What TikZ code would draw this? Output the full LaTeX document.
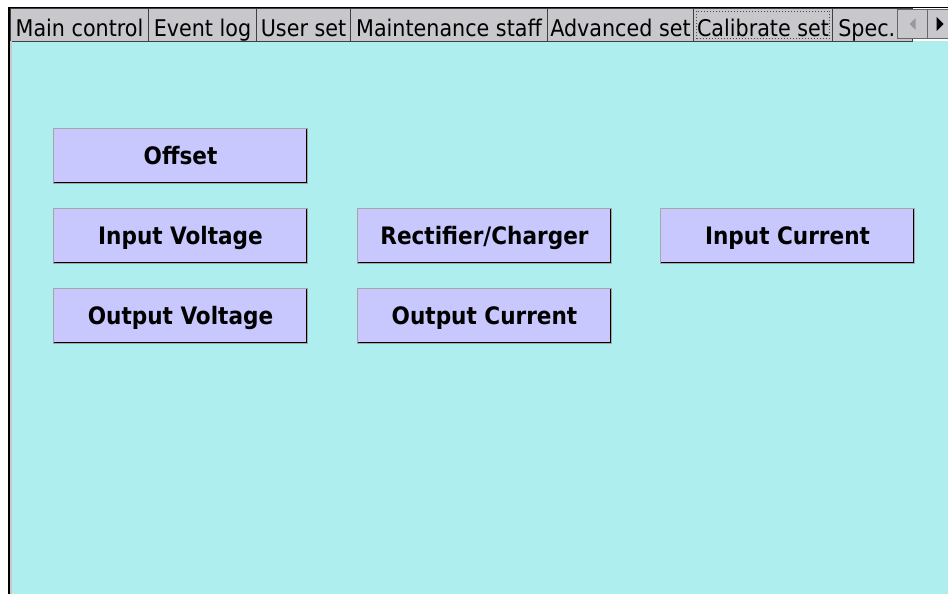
\documentclass[tikz,border=0pt]{standalone}
\usepackage{fontspec}
\setmainfont{DejaVu Sans Condensed}
\usetikzlibrary{positioning}

\definecolor{panelcyan}{RGB}{174,238,238}
\definecolor{tabgray}{RGB}{200,199,203}
\definecolor{btnfill}{RGB}{200,200,255}

\begin{document}
\begin{tikzpicture}[
  x=1pt, y=-1pt,
  tabbox/.style={draw=black!75, line width=1, fill=tabgray, anchor=north west,
    inner sep=0, text height=28, text depth=5, font=\fontsize{23}{25}\selectfont},
  tabsel/.style={tabbox, path picture={
    \draw[dotted, black!70] ([shift={(3,3)}]path picture bounding box.north west)
      rectangle ([shift={(-3,-3)}]path picture bounding box.south east);}},
  btn/.style={draw=black!35, line width=1, fill=btnfill, anchor=north west,
    minimum width=254, minimum height=55, inner sep=0, text height=17.5, text depth=0,
    font=\fontsize{24}{26}\selectfont\bfseries,
    path picture={
      \draw[black, line width=3] (path picture bounding box.north east)
        -- (path picture bounding box.south east) -- (path picture bounding box.south west);}},
  scrollbtn/.style={draw=black!60, line width=1, fill=tabgray, anchor=north west,
    minimum width=#1, minimum height=29, inner sep=0}
]
\useasboundingbox (0,0) rectangle (948,594);
\fill[white] (0,0) rectangle (948,594);

% page area below the tabs
\fill[panelcyan] (12,41) rectangle (948,594);

% tab strip
\node[tabbox, minimum width=138] (tmain)  at (10,8)  {Main control};
\node[tabbox, minimum width=108] (tevent) at (148,8) {Event log};
\node[tabbox, minimum width=94]  (tuser)  at (256,8) {User set};
\node[tabbox, minimum width=197] (tstaff) at (350,8) {Maintenance staff};
\node[tabbox, minimum width=146] (tadv)   at (547,8) {Advanced set};
\node[tabsel, minimum width=139] (tcal)   at (693,8) {Calibrate set};
\node[tabbox, minimum width=80, text width=76, align=left] (tspec) at (832,8) {\,Spec.};

% scroll buttons
\node[scrollbtn=30] (lscroll) at (897,9) {};
\node[scrollbtn=24] (rscroll) at (927,9) {};
\fill[black!40] ([xshift=-3]lscroll.center) -- ++(6,-6) -- ++(0,12) -- cycle;
\fill[black] ([xshift=-3]rscroll.center) -- ++(0,-7) -- ++(7,7) -- ++(-7,7) -- cycle;

% frame edges
\fill[black] (8,7) rectangle (10,594);
\fill[black!22] (10,41) rectangle (12,594);
\draw[black, line width=1.5] (8,7.5) -- (948,7.5);

% calibration buttons
\node[btn] (offset)  at (53,128)  {Offset};
\node[btn] (involt)  at (53,208)  {Input Voltage};
\node[btn] (rectchg) at (357,208) {Rectifier/Charger};
\node[btn] (incurr)  at (660,208) {Input Current};
\node[btn] (outvolt) at (53,288)  {Output Voltage};
\node[btn] (outcurr) at (357,288) {Output Current};

\end{tikzpicture}
\end{document}
